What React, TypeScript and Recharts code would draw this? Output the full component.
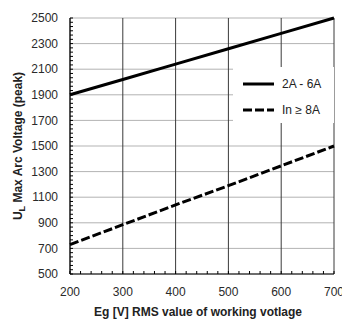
import { LineChart, Line, XAxis, YAxis, CartesianGrid, Legend, Label } from "recharts";

const xValues = [200, 300, 400, 500, 600, 700];
const lowCurrent = [1900, 2020, 2140, 2260, 2380, 2500];
const highCurrent = [730, 885, 1040, 1190, 1345, 1500];

const xTicks = [200, 300, 400, 500, 600, 700];
const yTicks = [500, 700, 900, 1100, 1300, 1500, 1700, 1900, 2100, 2300, 2500];
// minor ticks: 5 per major step on x, 6 per major step on y
const xMinor = Array.from({ length: 26 }, (_, i) => 200 + i * 20);
const yMinor = Array.from({ length: 61 }, (_, i) => 500 + (i * 100) / 3);

const seriesNames = ["2A - 6A", "In \u2265 8A"];

const data = xValues.map((x, i) => ({
  x,
  low: lowCurrent[i],
  high: highCurrent[i],
}));

const FONT = "'Liberation Sans', Arial, sans-serif";

function XTick(props: any) {
  const { x, y, payload } = props;
  const v = Math.round(payload.value);
  return (
    <g>
      <line x1={x} x2={x} y1={y} y2={y - 3} stroke="#000" strokeWidth={1} />
      {xTicks.includes(v) && (
        <text x={x} y={y + 22} textAnchor="middle" fontSize={12} fill="#2a2a2a" fontFamily={FONT}>
          {v}
        </text>
      )}
    </g>
  );
}

function YTick(props: any) {
  const { x, y, payload } = props;
  const v = Math.round(payload.value);
  return (
    <g>
      <line x1={x} x2={x + 3} y1={y} y2={y} stroke="#000" strokeWidth={1} />
      {yTicks.includes(v) && (
        <text x={x - 12} y={y} dy="0.35em" textAnchor="end" fontSize={12} fill="#2a2a2a" fontFamily={FONT}>
          {v}
        </text>
      )}
    </g>
  );
}

function YTitle(props: any) {
  const vb = props.viewBox;
  const cx = vb.x + 22;
  const cy = vb.y + vb.height / 2;
  return (
    <text
      x={cx}
      y={cy}
      transform={`rotate(-90 ${cx} ${cy})`}
      textAnchor="middle"
      fontSize={12}
      fontWeight="bold"
      fill="#222"
      fontFamily={FONT}
    >
      U
      <tspan fontSize={9} dy={3}>L</tspan>
      <tspan dy={-3}> Max Arc Voltage (peak)</tspan>
    </text>
  );
}

function XTitle(props: any) {
  const vb = props.viewBox;
  return (
    <text
      x={vb.x + vb.width / 2 - 4}
      y={vb.y + 42}
      textAnchor="middle"
      fontSize={12}
      fontWeight="bold"
      fill="#222"
      fontFamily={FONT}
    >
      Eg [V] RMS value of working votlage
    </text>
  );
}

function LegendBox() {
  return (
    <div style={{ background: "#fff", width: 101, height: 56 }}>
      <svg width={101} height={56}>
        <line x1={10} x2={41} y1={17} y2={17} stroke="#000" strokeWidth={3} />
        <text x={49} y={17} dy="0.35em" fontSize={12} fill="#222" fontFamily={FONT}>
          {seriesNames[0]}
        </text>
        <line x1={10} x2={41} y1={43} y2={43} stroke="#000" strokeWidth={3} strokeDasharray="9 3" />
        <text x={49} y={43} dy="0.35em" fontSize={12} fill="#222" fontFamily={FONT}>
          {seriesNames[1]}
        </text>
      </svg>
    </div>
  );
}

export default function App() {
  return (
    <div style={{ position: "absolute", left: 0, top: 0, background: "#fff" }}>
      <LineChart width={342} height={323} data={data} margin={{ top: 18, right: 8, left: 0, bottom: 0 }}>
        <CartesianGrid horizontalValues={yTicks} vertical={false} stroke="#b3b3b3" strokeWidth={1} />
        <CartesianGrid verticalValues={xTicks} horizontal={false} stroke="#3a3a3a" strokeWidth={1} />
        <XAxis
          dataKey="x"
          type="number"
          domain={[200, 700]}
          ticks={xMinor}
          interval={0}
          tickLine={false}
          tickSize={0}
          tickMargin={0}
          height={49}
          axisLine={{ stroke: "#000" }}
          tick={<XTick />}
        >
          <Label content={<XTitle />} />
        </XAxis>
        <YAxis
          type="number"
          domain={[500, 2500]}
          ticks={yMinor}
          interval={0}
          tickLine={false}
          tickSize={0}
          tickMargin={0}
          width={70}
          axisLine={{ stroke: "#000" }}
          tick={<YTick />}
        >
          <Label content={<YTitle />} />
        </YAxis>
        <Legend
          layout="vertical"
          align="center"
          verticalAlign="middle"
          content={<LegendBox />}
          wrapperStyle={{ position: "absolute", left: 233, top: 67, width: 101, height: 56 }}
        />
        <Line
          dataKey="low"
          name={seriesNames[0]}
          stroke="#000"
          strokeWidth={3}
          dot={false}
          isAnimationActive={false}
        />
        <Line
          dataKey="high"
          name={seriesNames[1]}
          stroke="#000"
          strokeWidth={3}
          strokeDasharray="9 3"
          dot={false}
          isAnimationActive={false}
        />
      </LineChart>
    </div>
  );
}
